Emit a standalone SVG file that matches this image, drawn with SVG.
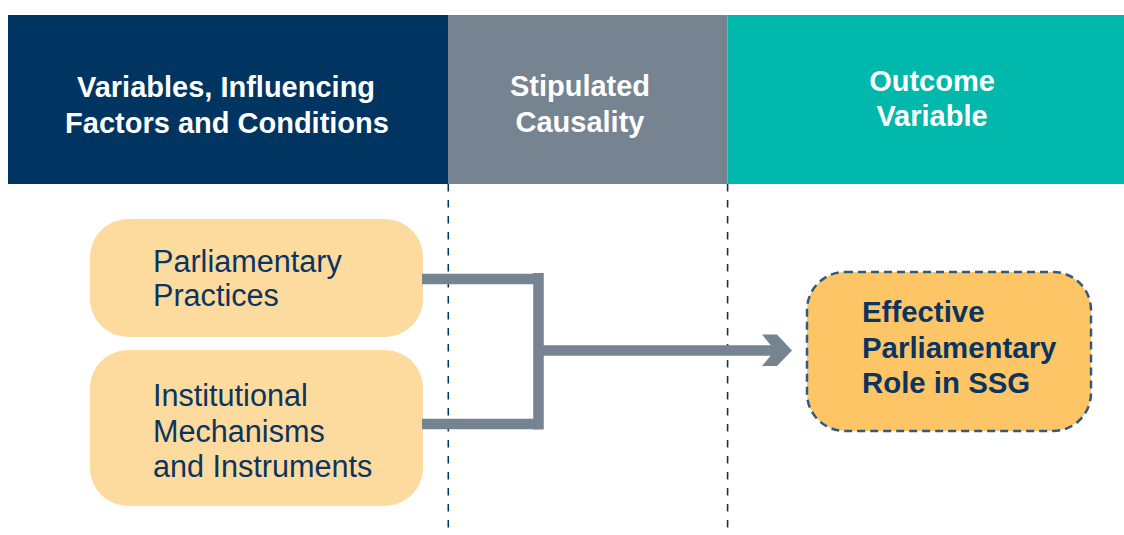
<svg xmlns="http://www.w3.org/2000/svg" width="1124" height="535" viewBox="0 0 1124 535">
<style>
.hdr{font-family:"Liberation Sans",Arial,sans-serif;font-weight:bold;font-size:29px;fill:#ffffff;text-anchor:middle}
.in{font-family:"Liberation Sans",Arial,sans-serif;font-size:30.6px;fill:#0B3560}
.out{font-family:"Liberation Sans",Arial,sans-serif;font-weight:bold;font-size:29.4px;fill:#0B3560}
.guide{stroke:#0B3560;stroke-width:1.6;stroke-dasharray:7.5 8.5;fill:none}
.conn{stroke:#768391;stroke-width:10.5;fill:none;stroke-linecap:butt;stroke-linejoin:miter}
</style>
<rect width="1124" height="535" fill="#ffffff"/>
<g id="header-variables">
<rect x="8" y="15" width="440" height="169" fill="#003461"/>
<text class="hdr" x="226" y="97">Variables, Influencing</text>
<text class="hdr" x="227" y="133">Factors and Conditions</text>
</g>
<g id="header-causality">
<rect x="448" y="15" width="279.5" height="169" fill="#768391"/>
<text class="hdr" x="580" y="96">Stipulated</text>
<text class="hdr" x="580" y="132">Causality</text>
</g>
<g id="header-outcome">
<rect x="727.5" y="15" width="396.5" height="169" fill="#00B8AB"/>
<text class="hdr" x="932" y="91">Outcome</text>
<text class="hdr" x="932" y="126">Variable</text>
</g>
<g id="guides">
<line class="guide" x1="448.3" y1="184" x2="448.3" y2="528"/>
<line class="guide" x1="727.6" y1="184" x2="727.6" y2="528"/>
</g>
<g id="node-practices">
<rect x="90" y="219" width="333" height="118" rx="38" fill="#FDDA9D"/>
<text class="in" x="153" y="272">Parliamentary</text>
<text class="in" x="153" y="306">Practices</text>
</g>
<g id="node-mechanisms">
<rect x="90" y="350" width="333" height="156" rx="38" fill="#FDDA9D"/>
<text class="in" x="153" y="406">Institutional</text>
<text class="in" x="153" y="442">Mechanisms</text>
<text class="in" x="153" y="477">and Instruments</text>
</g>
<g id="connectors">
<polyline class="conn" points="422,279 538.5,279"/>
<polyline class="conn" points="422,424 538.5,424"/>
<line class="conn" x1="538.5" y1="273" x2="538.5" y2="429.5"/>
<line class="conn" x1="538.5" y1="350.5" x2="776" y2="350.5"/>
<polygon points="762,334.5 777,334.5 792,350.5 777,366 762,366 775,350.5" fill="#768391"/>
</g>
<g id="node-outcome">
<rect x="807" y="272" width="284" height="159" rx="38" fill="#FDC565" stroke="#2F5B82" stroke-width="2.5" stroke-dasharray="8 5"/>
<text class="out" x="862" y="322">Effective</text>
<text class="out" x="862" y="358">Parliamentary</text>
<text class="out" x="862" y="393">Role in SSG</text>
</g>
</svg>
